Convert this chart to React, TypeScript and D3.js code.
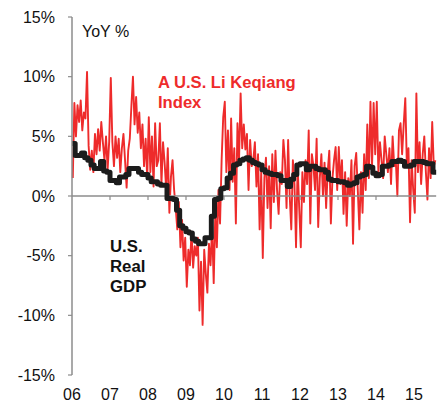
import React from "react";
import * as d3 from "d3";

// semi-monthly readings, Jan 2006 .. Jul 2015 (two per month)
const keqiang2006 = [1.5, 7.8, 5.0, 7.6, 6.2, 8.0, 5.5, 7.0, 6.5, 10.4, 4.2, 2.2, 3.8, 2.0, 5.2, 3.5, 5.6, 3.8, 6.2, 4.5, 3.0, 5.0, 2.2, 4.6];
const keqiang2007 = [9.9, 4.5, 2.5, 5.0, 3.2, 4.8, 2.0, 4.0, 5.2, 3.0, 0.7, 3.8, 4.8, 7.5, 10.0, 6.0, 8.3, 5.3, 7.0, 4.0, 6.0, 2.5, 4.8, 1.5];
const keqiang2008 = [6.6, 2.0, 5.0, 0.8, 6.1, 2.5, 3.0, 6.1, 1.0, 4.5, 2.8, 0.5, 4.0, -1.4, 1.6, 3.0, 0.5, -1.0, -2.8, -0.5, -4.3, -2.0, -5.4, -3.5];
const keqiang2009 = [-7.6, -4.5, -5.8, -3.0, -6.0, -4.2, -5.0, -3.5, -9.6, -5.5, -10.8, -4.5, -6.5, -8.1, -4.0, -5.8, -2.5, -7.3, -1.4, -4.3, 0.5, -2.3, 3.0, 6.6];
const keqiang2010 = [7.9, 2.0, 5.5, 0.5, 6.5, 1.2, 4.0, -2.3, 6.1, 3.0, 8.6, 4.0, 6.0, 3.9, 5.2, 0.5, 4.7, 2.5, 3.0, 4.5, 0.8, 3.5, -2.8, 2.0];
const keqiang2011 = [-5.2, 1.5, 3.2, -1.0, 2.5, -2.7, 3.5, -0.5, 3.8, 0.5, -1.5, 2.0, 1.0, 4.7, 3.0, -1.0, 4.7, 0.0, -2.8, 3.0, 1.0, -4.3, 2.5, -1.0];
const keqiang2012 = [-4.3, 2.0, -0.5, 3.0, 1.0, 5.5, -2.3, 3.5, 2.5, 0.5, 4.8, -2.6, 1.5, 3.5, 0.0, 2.8, -1.0, 2.0, 3.8, -2.3, 1.5, 3.0, 4.1, 0.5];
const keqiang2013 = [4.1, 1.0, 3.0, -1.5, 2.0, -2.5, 1.5, 0.0, 3.0, -4.0, 2.5, 3.6, 0.5, -2.8, 2.0, -1.4, 3.5, 0.5, 6.0, 1.5, 7.9, 2.5, 7.8, 3.5];
const keqiang2014 = [7.9, 2.0, 4.5, 3.0, 1.5, 5.0, 3.5, 2.0, 4.0, 1.0, 5.0, 2.5, 3.0, 0.0, 5.5, 6.1, 3.5, 6.0, 8.2, 2.5, 4.0, -2.2, 3.0, 0.5];
const keqiang2015 = [-1.4, 8.6, 2.0, 4.5, 1.0, 3.5, 5.0, 2.0, -0.3, 4.0, 1.5, 6.2, 2.5, 3.0];

// monthly real GDP YoY, Jan 2006 .. Jul 2015
const gdp = [
  4.4, 3.4, 3.4, 3.6, 3.2, 3.0, 2.6, 2.3, 2.3, 2.9, 2.1, 2.0,
  1.3, 1.3, 1.1, 1.6, 1.6, 1.8, 2.3, 2.3, 2.3, 2.0, 1.8, 1.8,
  1.5, 1.2, 1.2, 1.0, 0.9, 0.9, -0.2, -0.2, -0.3, -1.2, -2.5, -2.7,
  -3.0, -3.1, -3.6, -3.8, -4.0, -4.0, -3.5, -3.5, -1.7, -0.3, -0.2, 0.6,
  0.7, 1.5, 1.9, 2.6, 2.7, 3.0, 3.1, 3.2, 3.0, 2.8, 2.7, 2.6,
  2.2, 2.0, 1.9, 1.8, 1.8, 1.7, 1.3, 1.3, 0.8, 1.4, 1.8, 2.6,
  2.7, 2.7, 2.2, 2.5, 2.5, 2.3, 2.2, 2.2, 2.0, 1.4, 1.3, 1.3,
  1.2, 1.2, 1.1, 0.9, 1.0, 1.1, 1.6, 1.7, 1.8, 2.5, 2.4, 1.9,
  1.7, 1.8, 2.5, 2.5, 2.6, 2.9, 2.9, 3.0, 2.9, 2.5, 2.5, 2.6,
  2.9, 2.9, 2.9, 2.8, 2.7, 2.7, 2.0,
];

const yearLabels = ["06", "07", "08", "09", "10", "11", "12", "13", "14", "15"];
const yTicks = [15, 10, 5, 0, -5, -10, -15];

const W = 443;
const H = 403;
const FONT = "'Liberation Sans', Arial, sans-serif";

export default function App() {
  const x = d3.scaleLinear().domain([2006, 2016]).range([72, 452]);
  const y = d3.scaleLinear().domain([-15, 15]).range([375, 17]);

  const keqiang = [
    ...keqiang2006, ...keqiang2007, ...keqiang2008, ...keqiang2009, ...keqiang2010,
    ...keqiang2011, ...keqiang2012, ...keqiang2013, ...keqiang2014, ...keqiang2015,
  ];
  const redPts: [number, number][] = keqiang.map((v, i) => [2006 + i / 24 + 1 / 48, v]);
  const blackPts: [number, number][] = gdp.map((v, i) => [2006 + i / 12, v]);
  blackPts.push([2006 + gdp.length / 12, gdp[gdp.length - 1]]);

  const line = d3.line<[number, number]>().x((d) => x(d[0])).y((d) => y(d[1]));
  const stepLine = d3
    .line<[number, number]>()
    .x((d) => x(d[0]))
    .y((d) => y(d[1]))
    .curve(d3.curveStepAfter);

  const axisColor = "#8c8c8c";
  const x0 = x(2006);
  const xEnd = x(2006 + gdp.length / 12);

  return (
    <svg width={W} height={H} style={{ position: "absolute", left: 0, top: 0, background: "#fff" }} fontFamily={FONT}>
      <path d={line(redPts) ?? ""} fill="none" stroke="#ee2b2b" strokeWidth={1.9} strokeLinejoin="round" />
      <line x1={x0} x2={xEnd} y1={y(0)} y2={y(0)} stroke={axisColor} strokeWidth={1.5} />
      {yearLabels.slice(1).map((lab, i) => (
        <line key={lab} x1={x(2007 + i)} x2={x(2007 + i)} y1={y(0)} y2={y(0) + 4} stroke={axisColor} strokeWidth={1.2} />
      ))}
      <path d={stepLine(blackPts) ?? ""} fill="none" stroke="#1c1c1c" strokeWidth={5} strokeLinejoin="round" />
      <line x1={x0} x2={x0} y1={y(15)} y2={y(-15)} stroke={axisColor} strokeWidth={1.5} />
      {yTicks.map((t) => (
        <g key={t}>
          <line x1={x0 - 4} x2={x0} y1={y(t)} y2={y(t)} stroke={axisColor} strokeWidth={1.2} />
          <text x={55} y={y(t)} dy="0.36em" textAnchor="end" fontSize={16} fill="#111">
            {t}%
          </text>
        </g>
      ))}
      {yearLabels.map((lab, i) => (
        <text key={lab} x={x(2006 + i)} y={400} textAnchor="middle" fontSize={16} fill="#111">
          {lab}
        </text>
      ))}
      <text x={82} y={37} fontSize={16} fill="#111">YoY %</text>
      <text x={158} y={88} fontSize={16.6} fontWeight="bold" fill="#ee2b2b">
        <tspan x={158}>A U.S. Li Keqiang</tspan>
        <tspan x={158} y={108}>Index</tspan>
      </text>
      <text x={110} y={252} fontSize={16.8} fontWeight="bold" fill="#111">
        <tspan x={110}>U.S.</tspan>
        <tspan x={110} y={272}>Real</tspan>
        <tspan x={110} y={292}>GDP</tspan>
      </text>
    </svg>
  );
}
